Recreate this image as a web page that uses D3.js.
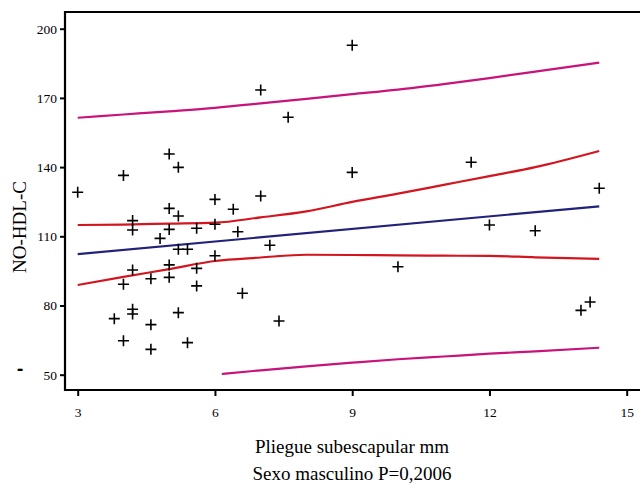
<!DOCTYPE html>
<html>
<head>
<meta charset="utf-8">
<script src="https://cdn.jsdelivr.net/npm/d3@7"></script>
<style>
  html, body { margin: 0; padding: 0; background: #fff; }
  svg { display: block; }
</style>
</head>
<body>
<div id="chart"></div>
<script>
// --- Data ---
const pointX = [3.0, 4.0, 5.0, 5.2, 5.0, 5.2, 4.2, 4.2, 5.0, 4.8, 5.2, 6.0, 7.0, 6.4, 5.6, 6.0,
  6.5, 7.2, 5.4, 6.0, 4.2, 5.0, 4.0, 4.6, 5.0, 4.2, 4.2, 3.8, 4.6, 5.2, 4.0, 4.6,
  5.6, 5.6, 6.6, 7.4, 5.4, 10.0, 9.0, 7.0, 7.6, 9.0, 11.6, 14.4, 12.0, 13.0, 14.0, 14.2];
const pointY = [129.1, 136.4, 145.7, 139.9, 122.1, 118.8, 116.8, 112.7, 113.0, 109.1, 104.4, 126.0, 127.5, 121.7, 113.5, 115.2,
  112.0, 106.1, 104.4, 101.6, 95.4, 97.6, 89.2, 91.6, 92.2, 78.4, 76.3, 74.3, 71.7, 76.9, 64.7, 61.0,
  96.1, 88.5, 85.3, 73.3, 63.9, 96.8, 192.8, 173.4, 161.6, 137.7, 142.1, 130.8, 114.9, 112.4, 77.9, 81.5];

// fitted line
const fitX = [3, 14.4];
const fitY = [102.3, 123.0];

// confidence band (mean)
const ciX = [3, 4, 5, 6, 7, 8, 9, 10, 11, 12, 13, 14.4];
const ciUpper = [114.9, 115.1, 115.5, 115.9, 118.2, 120.8, 124.9, 128.5, 132.3, 136.1, 140.0, 147.0];
const ciLower = [88.9, 92.4, 95.8, 99.3, 100.8, 102.0, 101.9, 101.7, 101.6, 101.5, 100.9, 100.2];

// prediction band
const piUpX = [3, 4, 5, 6, 7, 8, 9, 10, 11, 12, 13, 14.4];
const piUpper = [161.4, 162.8, 164.2, 165.7, 167.6, 169.6, 171.6, 173.6, 176.0, 178.6, 181.4, 185.3];
const piLowX = [6.15, 7, 8, 9, 10, 11, 12, 13, 14.4];
const piLower = [50.3, 51.9, 53.6, 55.2, 56.7, 57.9, 59.1, 60.1, 61.7];

const xTicks = [3, 6, 9, 12, 15];
const yTicks = [50, 80, 110, 140, 170, 200];

// --- Sizes ---
const W = 640, H = 484;
const axisLeft = 65, axisTop = 12, axisBottom = 390;
const serif = "'Liberation Serif', 'Times New Roman', serif";

const svg = d3.select("#chart")
  .append("svg")
    .attr("width", W)
    .attr("height", H)
    .style("font-family", serif);

// --- Scales ---
const x = d3.scaleLinear().domain([3, 15]).range([77.7, 626.7]);
const y = d3.scaleLinear().domain([50, 200]).range([374.7, 28.7]);

// --- Frame lines ---
svg.append("line")
  .attr("x1", axisLeft).attr("x2", axisLeft)
  .attr("y1", axisTop - 1).attr("y2", axisBottom + 1)
  .attr("stroke", "#000").attr("stroke-width", 2.2);
svg.append("line")
  .attr("x1", axisLeft).attr("x2", W)
  .attr("y1", axisTop).attr("y2", axisTop)
  .attr("stroke", "#000").attr("stroke-width", 2);
svg.append("line")
  .attr("x1", axisLeft).attr("x2", W)
  .attr("y1", axisBottom).attr("y2", axisBottom)
  .attr("stroke", "#000").attr("stroke-width", 2.2);

// --- Axes ---
const gy = svg.append("g")
  .attr("transform", `translate(${axisLeft},0)`)
  .call(d3.axisLeft(y).tickValues(yTicks).tickSize(5).tickPadding(3).tickFormat(d3.format("d")));
const gx = svg.append("g")
  .attr("transform", `translate(0,${axisBottom})`)
  .call(d3.axisBottom(x).tickValues(xTicks).tickSize(6).tickPadding(11).tickFormat(d3.format("d")));

[gx, gy].forEach(g => {
  g.attr("font-family", serif).attr("font-size", 13.5);
  g.select(".domain").remove();
  g.selectAll(".tick line").attr("stroke", "#000").attr("stroke-width", 2);
  g.selectAll(".tick text")
    .attr("fill", "#000")
    .attr("font-family", serif)
    .style("font-family", serif)
    .style("font-size", "13.5px");
});

// --- Bands and fit ---
const line = (xs, ys) => d3.line()
  .x((d, i) => x(xs[i]))
  .y(d => y(d))
  .curve(d3.curveMonotoneX)(ys);

const drawLine = (xs, ys, color) => svg.append("path")
  .attr("d", line(xs, ys))
  .attr("fill", "none")
  .attr("stroke", color)
  .attr("stroke-width", 2.2);

drawLine(piUpX, piUpper, "#c8137a");
drawLine(piLowX, piLower, "#c8137a");
drawLine(ciX, ciUpper, "#d3151f");
drawLine(ciX, ciLower, "#d3151f");
drawLine(fitX, fitY, "#22227a");

// --- Points (crosses) ---
svg.append("g")
  .selectAll("path")
  .data(pointX)
  .join("path")
    .attr("transform", (d, i) => `translate(${x(d)},${y(pointY[i])})`)
    .attr("d", "M-5.5,0H5.5M0,-5.5V5.5")
    .attr("stroke", "#000")
    .attr("stroke-width", 1.6)
    .attr("fill", "none");

// --- Labels ---
svg.append("text")
  .attr("transform", "translate(26,227) rotate(-90)")
  .attr("text-anchor", "middle")
  .style("font-size", "19px")
  .text("NO-HDL-C");

svg.append("text")
  .attr("x", 20).attr("y", 374)
  .attr("text-anchor", "middle")
  .style("font-family", "'DejaVu Sans', sans-serif")
  .style("font-size", "16px")
  .style("font-weight", "bold")
  .text("-");

svg.append("text")
  .attr("x", 352).attr("y", 453)
  .attr("text-anchor", "middle")
  .style("font-size", "19px")
  .text("Pliegue subescapular mm");

svg.append("text")
  .attr("x", 352).attr("y", 480)
  .attr("text-anchor", "middle")
  .style("font-size", "19px")
  .text("Sexo masculino P=0,2006");
</script>
</body>
</html>
